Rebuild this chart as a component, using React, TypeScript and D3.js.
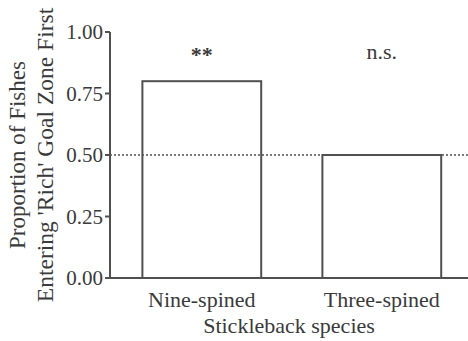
import React from "react";
import * as d3 from "d3";

const categories = ["Nine-spined", "Three-spined"];
const proportions = [0.8, 0.5];
const significance = ["**", "n.s."];
const yTicks = [0, 0.25, 0.5, 0.75, 1.0];
const chanceLevel = 0.5;

const W = 468;
const H = 341;
const FONT = "'Liberation Serif', 'Times New Roman', serif";
const INK = "#505050";
const TEXT = "#3a3a3a";

export default function App() {
  const y = d3.scaleLinear().domain([0, 1]).range([278, 32]);
  const x = d3
    .scaleBand<string>()
    .domain(categories)
    .range([110, 473.6])
    .paddingInner(0.34)
    .paddingOuter(0.18);
  const axisX0 = 110;
  const axisX1 = 468;

  return (
    <svg
      width={W}
      height={H}
      style={{ position: "absolute", left: 0, top: 0, background: "#fff" }}
      fontFamily={FONT}
    >
      <rect width={W} height={H} fill="#fff" />
      {categories.map((c, i) => (
        <rect
          key={c}
          x={x(c)}
          y={y(proportions[i])}
          width={x.bandwidth()}
          height={y(0) - y(proportions[i])}
          fill="#fff"
          stroke={INK}
          strokeWidth={2}
        />
      ))}
      <line
        x1={axisX0}
        x2={axisX1}
        y1={y(chanceLevel)}
        y2={y(chanceLevel)}
        stroke={INK}
        strokeWidth={1.5}
        strokeDasharray="2,2"
      />
      <line x1={axisX0} x2={axisX0} y1={y(0)} y2={y(1)} stroke={INK} strokeWidth={2} />
      {yTicks.map((t) => (
        <g key={t}>
          <line x1={axisX0 - 5} x2={axisX0} y1={y(t)} y2={y(t)} stroke={INK} strokeWidth={2} />
          <text
            x={axisX0 - 7}
            y={y(t)}
            dy="0.35em"
            textAnchor="end"
            fontSize={21}
            fill={TEXT}
          >
            {d3.format(".2f")(t)}
          </text>
        </g>
      ))}
      <line x1={axisX0} x2={axisX1} y1={y(0)} y2={y(0)} stroke={INK} strokeWidth={2} />
      {categories.map((c) => (
        <text
          key={c}
          x={(x(c) as number) + x.bandwidth() / 2}
          y={307}
          textAnchor="middle"
          fontSize={22}
          fill={TEXT}
        >
          {c}
        </text>
      ))}
      {categories.map((c, i) => (
        <text
          key={c + "s"}
          x={(x(c) as number) + x.bandwidth() / 2}
          y={significance[i] === "**" ? 62 : 59}
          textAnchor="middle"
          fontSize={22}
          fontWeight={significance[i] === "**" ? "bold" : "normal"}
          fill={TEXT}
        >
          {significance[i]}
        </text>
      ))}
      <text
        x={(axisX0 + axisX1) / 2}
        y={333}
        textAnchor="middle"
        fontSize={22}
        fill={TEXT}
      >
        Stickleback species
      </text>
      <g transform={`translate(25, ${(y(0) + y(1)) / 2}) rotate(-90)`}>
        <text x={0} y={0} textAnchor="middle" fontSize={23} fill={TEXT}>
          Proportion of Fishes
        </text>
        <text x={0} y={28} textAnchor="middle" fontSize={23.5} fill={TEXT}>
          Entering 'Rich' Goal Zone First
        </text>
      </g>
    </svg>
  );
}
